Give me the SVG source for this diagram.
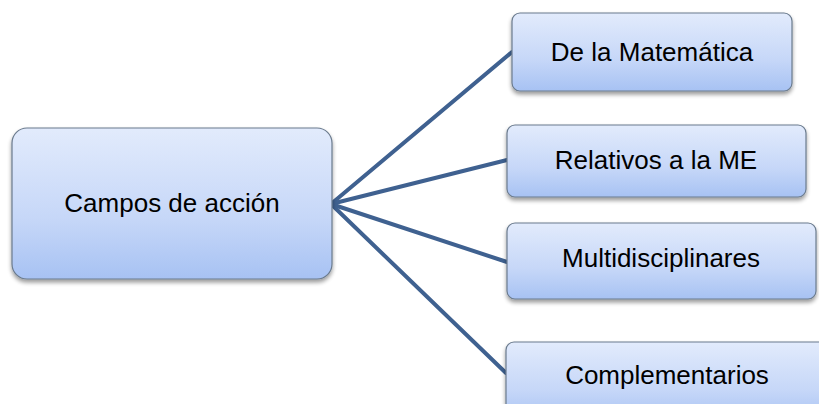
<svg xmlns="http://www.w3.org/2000/svg" width="819" height="404" viewBox="0 0 819 404">
<style>
.box{fill:url(#g);stroke:#6b7b8e;stroke-width:1.2;filter:url(#sh)}
.t{font-family:"Liberation Sans",Arial,sans-serif;font-size:26px;fill:#000;text-anchor:middle}
.c{stroke:#3f6190;stroke-width:4;fill:none;stroke-linecap:round}
</style>
<defs>
<linearGradient id="g" x1="0" y1="0" x2="0" y2="1">
<stop offset="0" stop-color="#e2ebfc"/>
<stop offset="0.6" stop-color="#c6d7f8"/>
<stop offset="1" stop-color="#a7c2f3"/>
</linearGradient>
<filter id="sh" x="-10%" y="-10%" width="120%" height="130%">
<feGaussianBlur in="SourceAlpha" stdDeviation="2"/>
<feOffset dx="0" dy="3" result="b"/>
<feComponentTransfer><feFuncA type="linear" slope="0.4"/></feComponentTransfer>
<feMerge><feMergeNode/><feMergeNode in="SourceGraphic"/></feMerge>
</filter>
</defs>
<rect width="819" height="404" fill="#fff"/>
<g id="connectors">
<line class="c" x1="331" y1="204" x2="512" y2="52"/>
<line class="c" x1="331" y1="204" x2="507" y2="160"/>
<line class="c" x1="331" y1="204" x2="507" y2="262"/>
<line class="c" x1="331" y1="204" x2="506" y2="373"/>
</g>
<g id="campos">
<rect class="box" x="12" y="128" width="320" height="151" rx="15"/>
<text class="t" x="172" y="212">Campos de acción</text>
</g>
<g id="matematica">
<rect class="box" x="512" y="13" width="280" height="78" rx="8"/>
<text class="t" x="652" y="61">De la Matemática</text>
</g>
<g id="relativos">
<rect class="box" x="507" y="125" width="299" height="72" rx="8"/>
<text class="t" x="656" y="169">Relativos a la ME</text>
</g>
<g id="multi">
<rect class="box" x="507" y="223" width="309" height="76" rx="8"/>
<text class="t" x="661" y="267">Multidisciplinares</text>
</g>
<g id="complementarios">
<rect class="box" x="506" y="342" width="322" height="80" rx="8"/>
<text class="t" x="667" y="384">Complementarios</text>
</g>
</svg>
